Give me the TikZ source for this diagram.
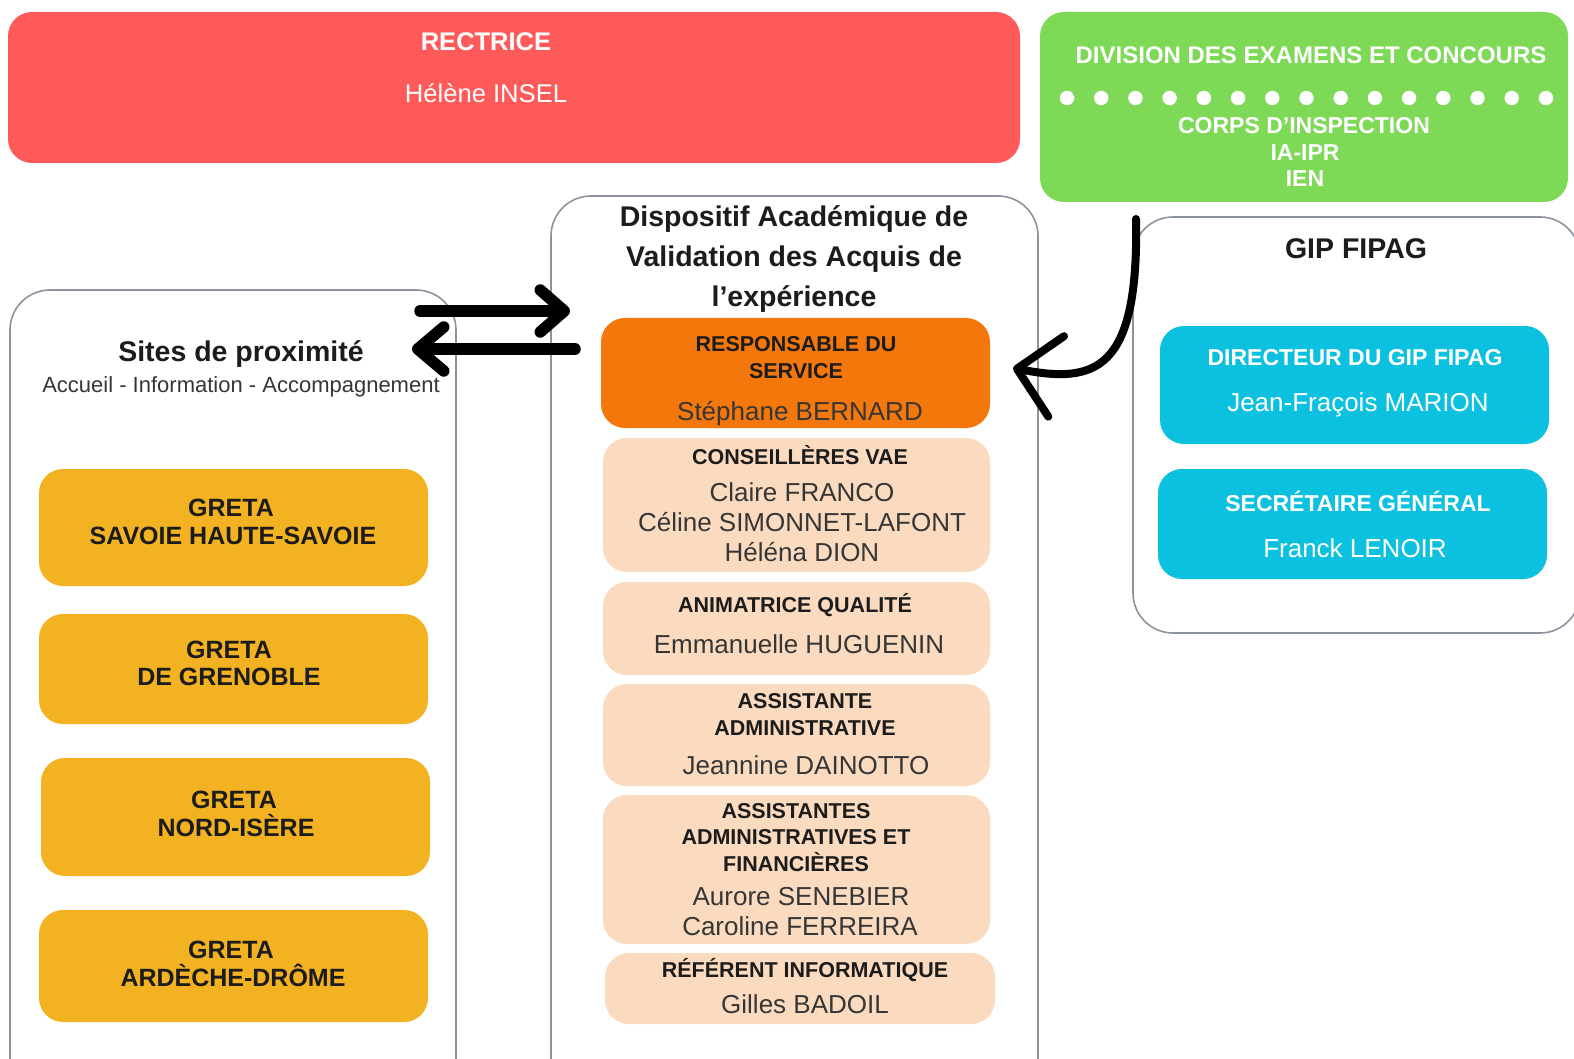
\documentclass[tikz,border=0pt]{standalone}
\usepackage{fontspec}
\setmainfont{Liberation Sans}
\usetikzlibrary{arrows.meta}
\definecolor{redc}{HTML}{FF5A5A}
\definecolor{greenc}{HTML}{7ED957}
\definecolor{yellowc}{HTML}{F3B221}
\definecolor{orangec}{HTML}{F4770B}
\definecolor{peachc}{HTML}{FBDBC0}
\definecolor{cyanc}{HTML}{0CC0DF}
\definecolor{bordc}{HTML}{8C939D}
\definecolor{capc}{HTML}{1C1C1C}
\definecolor{namec}{HTML}{363636}
\begin{document}
\begin{tikzpicture}[x=1pt,y=-1pt,
  cbox/.style={rectangle, rounded corners=24pt, inner sep=0pt, draw=none},
  obox/.style={rectangle, rounded corners=40pt, inner sep=0pt, draw=bordc, line width=1.6pt, fill=white},
  tcaps/.style={font=\bfseries\fontsize{21.5pt}{26pt}\selectfont, text=capc, inner sep=0pt, text height=15.4pt, text depth=0pt},
  tname/.style={font=\fontsize{26pt}{30pt}\selectfont, text=namec, inner sep=0pt, text height=18.6pt, text depth=0pt},
  ttitle/.style={font=\bfseries\fontsize{28.5pt}{34pt}\selectfont, text=capc, inner sep=0pt, text height=20.4pt, text depth=0pt},
  tgreta/.style={tcaps, font=\bfseries\fontsize{25pt}{30pt}\selectfont, text height=17.9pt},
  twcaps/.style={tcaps, font=\bfseries\fontsize{23pt}{28pt}\selectfont, text=white, text height=16.5pt},
  twname/.style={tname, text=white},
  tsub/.style={font=\fontsize{22pt}{26pt}\selectfont, text=namec, inner sep=0pt, text height=15.8pt, text depth=0pt},
  bigarrow/.style={line width=11.5pt, line cap=round, line join=round},
]
\clip (0,0) rectangle (1574,1059);
\fill[white] (0,0) rectangle (1574,1059);

% ---- top boxes
\node[cbox, fill=redc, minimum width=1012pt, minimum height=151pt] (rect) at (514,87.5) {};
\node[twcaps, font=\bfseries\fontsize{25.5pt}{30pt}\selectfont, text height=18.3pt] (rectT) at (486,41) {RECTRICE};
\node[twname, font=\fontsize{25.6pt}{30pt}\selectfont] (rectN) at (486,93) {Hélène INSEL};

\node[cbox, fill=greenc, minimum width=528pt, minimum height=190pt] (dec) at (1304,107) {};
\node[twcaps, font=\bfseries\fontsize{24pt}{28pt}\selectfont, text height=17.2pt] (decT) at (1311,55) {DIVISION DES EXAMENS ET CONCOURS};
\foreach \i in {0,...,14} \fill[white] ({1067+\i*34.21},98) circle (7.2pt);
\node[twcaps] (decA) at (1304,125) {CORPS D’INSPECTION};
\node[twcaps] (decB) at (1305,152) {IA-IPR};
\node[twcaps] (decC) at (1305,178) {IEN};

% ---- outer boxes
\node[obox, minimum width=446pt, minimum height=810pt] (sites) at (233,695) {};
\node[obox, minimum width=487pt, minimum height=904pt] (davae) at (794.5,648) {};
\node[obox, minimum width=447pt, minimum height=416pt] (gip) at (1356.5,425) {};

% ---- Sites de proximite
\node[ttitle] (sitesT) at (241,351) {Sites de proximité};
\node[tsub] (sitesS) at (241,385) {Accueil - Information - Accompagnement};

\node[cbox, fill=yellowc, minimum width=389pt, minimum height=117pt] (g1) at (233.5,527.5) {};
\node[tgreta] (g1a) at (231,508) {GRETA};
\node[tgreta] (g1b) at (233,536) {SAVOIE HAUTE-SAVOIE};
\node[cbox, fill=yellowc, minimum width=389pt, minimum height=110pt] (g2) at (233.5,669) {};
\node[tgreta] (g2a) at (229,650) {GRETA};
\node[tgreta] (g2b) at (229,677) {DE GRENOBLE};
\node[cbox, fill=yellowc, minimum width=389pt, minimum height=118pt] (g3) at (235.5,817) {};
\node[tgreta] (g3a) at (234,800) {GRETA};
\node[tgreta] (g3b) at (236,828) {NORD-ISÈRE};
\node[cbox, fill=yellowc, minimum width=389pt, minimum height=112pt] (g4) at (233.5,966) {};
\node[tgreta] (g4a) at (231,950) {GRETA};
\node[tgreta] (g4b) at (233,978) {ARDÈCHE-DRÔME};

% ---- DAVAE
\node[ttitle] (davT1) at (794,216) {Dispositif Académique de};
\node[ttitle] (davT2) at (794,256) {Validation des Acquis de};
\node[ttitle] (davT3) at (794,296) {l’expérience};

\node[cbox, fill=orangec, minimum width=389pt, minimum height=110pt] (resp) at (795.5,373) {};
\node[tcaps] (resp1) at (796,344) {RESPONSABLE DU};
\node[tcaps] (resp2) at (796,371) {SERVICE};
\node[tname] (respN) at (800,411) {Stéphane BERNARD};

\node[cbox, fill=peachc, minimum width=387pt, minimum height=134pt] (p1) at (796.5,505) {};
\node[tcaps] (p1a) at (800,457) {CONSEILLÈRES VAE};
\node[tname] (p1b) at (802,492) {Claire FRANCO};
\node[tname] (p1c) at (802,522) {Céline SIMONNET-LAFONT};
\node[tname] (p1d) at (802,552) {Héléna DION};

\node[cbox, fill=peachc, minimum width=387pt, minimum height=93pt] (p2) at (796.5,628.5) {};
\node[tcaps] (p2a) at (795,605) {ANIMATRICE QUALITÉ};
\node[tname] (p2b) at (799,644) {Emmanuelle HUGUENIN};

\node[cbox, fill=peachc, minimum width=387pt, minimum height=102pt] (p3) at (796.5,735) {};
\node[tcaps] (p3a) at (805,701) {ASSISTANTE};
\node[tcaps] (p3b) at (805,728) {ADMINISTRATIVE};
\node[tname] (p3c) at (806,765) {Jeannine DAINOTTO};

\node[cbox, fill=peachc, minimum width=387pt, minimum height=149pt] (p4) at (796.5,869.5) {};
\node[tcaps] (p4a) at (796,811) {ASSISTANTES};
\node[tcaps] (p4b) at (796,837) {ADMINISTRATIVES ET};
\node[tcaps] (p4c) at (796,864) {FINANCIÈRES};
\node[tname] (p4d) at (801,896) {Aurore SENEBIER};
\node[tname] (p4e) at (800,926) {Caroline FERREIRA};

\node[cbox, fill=peachc, minimum width=390pt, minimum height=71pt] (p5) at (800,988.5) {};
\node[tcaps] (p5a) at (805,970) {RÉFÉRENT INFORMATIQUE};
\node[tname] (p5b) at (805,1004) {Gilles BADOIL};

% ---- GIP FIPAG
\node[ttitle] (gipT) at (1356,248) {GIP FIPAG};
\node[cbox, fill=cyanc, minimum width=389pt, minimum height=118pt] (c1) at (1354.5,385) {};
\node[twcaps] (c1a) at (1355,357) {DIRECTEUR DU GIP FIPAG};
\node[twname] (c1b) at (1358,402) {Jean-Fraçois MARION};
\node[cbox, fill=cyanc, minimum width=389pt, minimum height=110pt] (c2) at (1352.5,524) {};
\node[twcaps] (c2a) at (1358,503) {SECRÉTAIRE GÉNÉRAL};
\node[twname] (c2b) at (1355,548) {Franck LENOIR};

% ---- arrows
\coordinate (a1s) at (420,311);
\coordinate (a1e) at (570,311);
\coordinate (a2s) at (575,349);
\coordinate (a2e) at (412,349);
\draw[bigarrow, -{Straight Barb[length=24pt,width=42pt,round]}] (a1s) -- (a1e);
\draw[bigarrow, -{Straight Barb[length=26pt,width=44pt,round]}] (a2s) -- (a2e);

\coordinate (cs) at (1136,219);
\coordinate (ce) at (1013,368);
\draw[line width=8pt, line cap=round, line join=round, -{Straight Barb[length=40pt,width=82pt,round]}]
  (cs) .. controls (1139,372) and (1095,384) .. (ce);
\end{tikzpicture}
\end{document}
